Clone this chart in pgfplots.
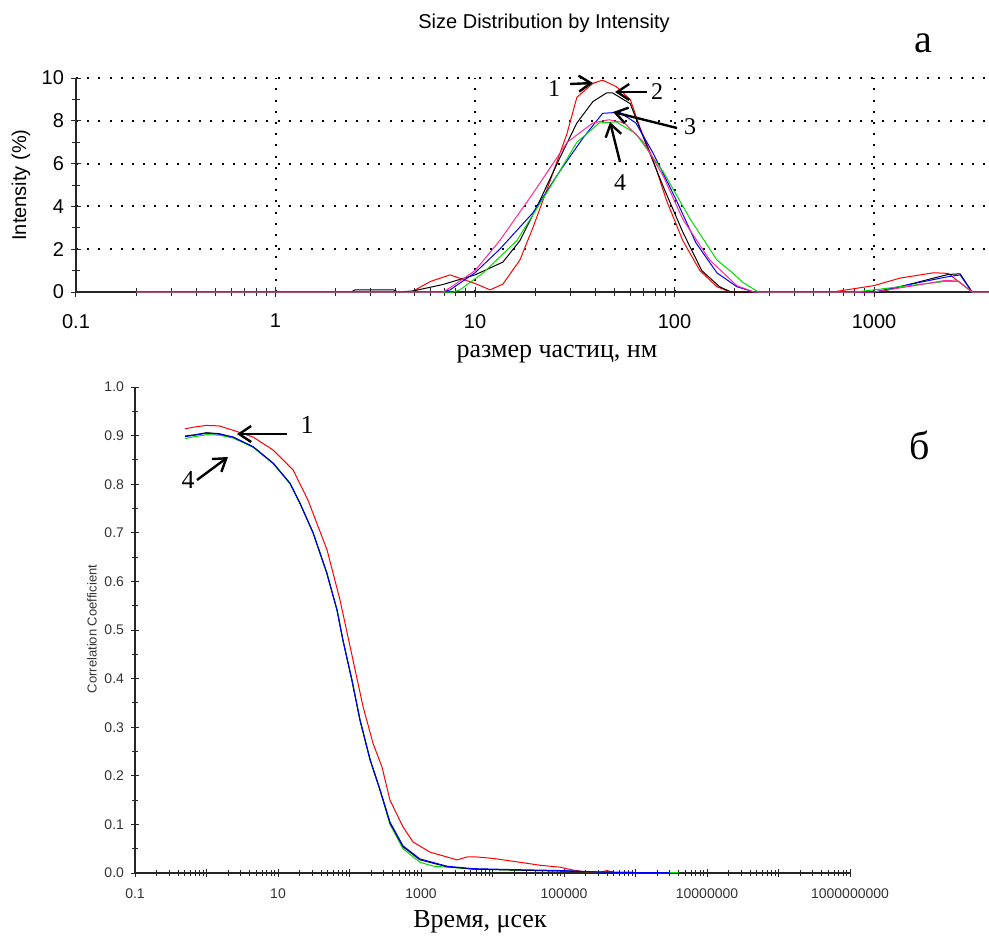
\documentclass[border=0pt]{standalone}
\usepackage{fontspec}
\setmainfont{Liberation Serif}
\setsansfont{Liberation Sans}
\usepackage{pgfplots}
\pgfplotsset{compat=1.18}
\usetikzlibrary{arrows.meta}

\definecolor{cRed}{RGB}{255,0,0}
\definecolor{cBlue}{RGB}{0,0,255}
\definecolor{cGreen}{RGB}{0,220,0}
\definecolor{cPink}{RGB}{255,40,150}

\begin{document}
\begin{tikzpicture}
\useasboundingbox (0,0) rectangle (494.5pt,-469pt);

% ---- a: size distribution
\begin{axis}[
    at={(38pt,-146pt)}, anchor=south west, scale only axis,
    width=456.5pt, height=107pt,
    xmode=log, xmin=0.1, xmax=3770, ymin=0, ymax=10,
    axis x line*=bottom, axis y line*=left,
    axis line style={line width=0.6pt, black!85},
    xtick={0.1,1,10,100,1000}, xticklabels={0.1,1,10,100,1000},
    ytick={0,2,4,6,8,10}, yticklabels={0,2,4,6,8,10},
    minor ytick={1,3,5,7,9},
    grid=major,
    major grid style={black, line width=1pt, dash pattern=on 1pt off 4.6pt},
    tick align=center, major tick length=5pt, minor tick length=4pt,
    tick style={black!85, line width=0.5pt},
    ticklabel style={font=\sffamily\fontsize{10}{12}\selectfont},
    xticklabel style={yshift=-5pt},
    every axis plot/.append style={line width=0.5pt},
]
\addplot[cRed] coordinates {
    (0.2,0) (4.8,0) (6.0,0.5) (7.5,0.8) (10,0.4) (11.9,0.1) (13.8,0.37)
    (16.8,1.5) (19.5,3.0) (23.8,5.2) (28.9,7.4) (32.4,9.1) (39,9.75)
    (43.6,9.9) (51,9.6) (60,9.0) (67,7.7) (78,6.2) (91,4.3) (110,2.4)
    (134,1.0) (163,0.25) (190,0) (620,0) (1000,0.3) (1350,0.65)
    (1990,0.9) (2350,0.87) (3100,0) (3770,0)
};
\addplot[black] coordinates {
    (0.2,0) (2.4,0) (2.5,0.1) (3.9,0.1) (4.1,0) (4.9,0.05) (6.9,0.35)
    (10,0.8) (13.8,1.4) (16.8,2.4) (21.2,4.3) (26.4,6.2) (32.4,7.9)
    (39,8.9) (45.6,9.3) (49,9.3) (60,8.8) (70,7.2) (88,4.9) (110,2.8)
    (137,1.0) (168,0.25) (192,0) (1070,0) (1990,0.65) (2350,0.82)
    (2700,0.85) (3100,0) (3770,0)
};
\addplot[cBlue] coordinates {
    (0.2,0) (6.9,0) (7.5,0.1) (10,0.9) (13.3,2.0) (19.5,3.7) (26.4,5.6)
    (34.8,7.2) (43.6,8.35) (53,8.4) (64,7.9) (78,6.5) (102,4.3)
    (128,2.3) (163,0.9) (205,0.25) (250,0) (1000,0) (1500,0.35)
    (2300,0.7) (2700,0.8) (3100,0) (3770,0)
};
\addplot[cGreen] coordinates {
    (0.2,0) (7.8,0) (8.4,0.1) (11,0.9) (16.2,2.4) (23.8,4.9) (32.4,7.0)
    (42,7.9) (51,7.95) (64,7.4) (88,5.6) (120,3.4) (163,1.5) (195,0.9)
    (220,0.45) (263,0) (800,0) (1000,0.1) (1350,0.25) (2300,0.5)
    (2650,0.5) (3100,0) (3770,0)
};
\addplot[cPink] coordinates {
    (0.2,0) (6.9,0) (7.5,0.2) (10,1.0) (13.3,2.4) (19.5,4.6) (29,7.0)
    (39,7.9) (47,8.05) (56,7.9) (70,7.0) (88,5.4) (110,3.4) (150,1.5)
    (205,0.3) (250,0) (1000,0) (1600,0.3) (2300,0.55) (2650,0.5)
    (3100,0) (3770,0)
};
\end{axis}

% ---- b: correlation function
\begin{axis}[
    at={(67.5pt,-436.5pt)}, anchor=south west, scale only axis,
    width=357.5pt, height=243pt,
    xmode=log, xmin=0.1, xmax=1e9, ymin=0, ymax=1,
    axis x line*=bottom, axis y line*=left,
    axis line style={line width=0.6pt, black!85},
    xtick={0.1,1,10,100,1000,1e4,1e5,1e6,1e7,1e8,1e9},
    xticklabels={0.1,,10,,1000,,100000,,10000000,,1000000000},
    ytick={0,0.1,0.2,0.3,0.4,0.5,0.6,0.7,0.8,0.9,1},
    yticklabels={0.0,0.1,0.2,0.3,0.4,0.5,0.6,0.7,0.8,0.9,1.0},
    minor y tick num=1,
    tick align=center, major tick length=4pt, minor tick length=3pt,
    tick style={black!85, line width=0.5pt},
    ticklabel style={font=\sffamily\fontsize{7}{8}\selectfont, black!80},
    xticklabel style={yshift=-2.5pt},
    every axis plot/.append style={line width=0.5pt},
]
\addplot[cRed] coordinates {
    (0.5,0.914) (0.7,0.918) (1.0,0.921) (1.5,0.920) (2.35,0.911)
    (4.5,0.897) (8.6,0.870) (16.3,0.829) (26.3,0.767) (48.5,0.665)
    (73.6,0.562) (112,0.438) (155,0.342) (213,0.267) (285,0.218)
    (368,0.150) (560,0.095) (773,0.064) (1335,0.043) (2310,0.033)
    (3190,0.027) (4400,0.033) (6070,0.033) (10200,0.030) (22000,0.023)
    (46100,0.016) (88000,0.012) (134000,0.006) (210000,0.002)
    (300000,0.001) (400000,0.005) (500000,0.001) (1e6,0.001)
};
\addplot[cGreen] coordinates {
    (0.5,0.894) (0.7,0.898) (1.0,0.902) (1.5,0.901) (2.35,0.895)
    (4.5,0.876) (8.6,0.842) (14.7,0.801) (20,0.762) (31,0.699)
    (48,0.617) (67,0.540) (81,0.478) (108,0.396) (140,0.314)
    (194,0.232) (267,0.170) (368,0.100) (560,0.050) (968,0.022)
    (1500,0.014) (2310,0.012) (5340,0.008) (20000,0.006) (100000,0.004)
    (300000,0.002) (1e6,0.001) (4e6,0.001)
};
\addplot[black] coordinates {
    (0.5,0.899) (0.7,0.902) (1.0,0.906) (1.5,0.904) (2.35,0.897)
    (4.5,0.877) (8.6,0.843) (14.7,0.802) (20,0.763) (31,0.700)
    (48,0.618) (67,0.541) (81,0.479) (108,0.397) (140,0.315)
    (194,0.233) (267,0.171) (368,0.103) (560,0.054) (968,0.027)
    (2310,0.013) (5340,0.008) (20000,0.006) (100000,0.004)
    (300000,0.002) (1e6,0.001) (2e6,0.001)
};
\addplot[cBlue] coordinates {
    (0.5,0.898) (0.7,0.901) (1.0,0.905) (1.5,0.903) (2.35,0.897)
    (4.5,0.877) (8.6,0.843) (14.7,0.802) (20,0.763) (31,0.700)
    (48,0.618) (67,0.541) (81,0.479) (108,0.398) (140,0.316)
    (194,0.234) (267,0.172) (368,0.105) (560,0.056) (968,0.029)
    (2310,0.014) (5340,0.009) (20000,0.007) (100000,0.005)
    (300000,0.002) (1e6,0.001) (3e6,0.001)
};
\end{axis}

% ---- texts and arrows, in pixel units of the reference
\begin{scope}[x=0.5pt, y=-0.5pt]
\node[font=\sffamily\fontsize{10}{12}\selectfont] at (544,23) {Size Distribution by Intensity};
\node[font=\fontsize{20}{24}\selectfont] at (923,43) {a};
\node[font=\fontsize{20}{24}\selectfont] at (920,445) {б};
\node[font=\fontsize{13}{15}\selectfont] at (557,354) {размер частиц, нм};
\node[font=\fontsize{13}{15}\selectfont] at (480,922) {Время, μсек};
\node[font=\sffamily\fontsize{10}{12}\selectfont, rotate=90] at (21,185) {Intensity (\%)};
\node[font=\sffamily\fontsize{6.5}{8}\selectfont, rotate=90, black!80] at (92,629) {Correlation Coefficient};

\tikzset{ann/.style={line width=1.2pt, -{Straight Barb[length=6pt,width=8pt]}}}
\node[font=\fontsize{12}{14}\selectfont] at (554,89) {1};
\draw[ann] (570,84) -- (593,83);
\node[font=\fontsize{12}{14}\selectfont] at (657,92) {2};
\draw[ann] (647,92) -- (615,92);
\node[font=\fontsize{12}{14}\selectfont] at (690,127) {3};
\draw[ann] (677,128) -- (613,112);
\node[font=\fontsize{12}{14}\selectfont] at (620,183) {4};
\draw[ann] (620,162) -- (610,122);

\node[font=\fontsize{13}{15}\selectfont] at (307,425) {1};
\draw[ann] (287,434) -- (237,434);
\node[font=\fontsize{13}{15}\selectfont] at (188,480) {4};
\draw[ann] (197,480) -- (228,457);
\end{scope}
\end{tikzpicture}
\end{document}
